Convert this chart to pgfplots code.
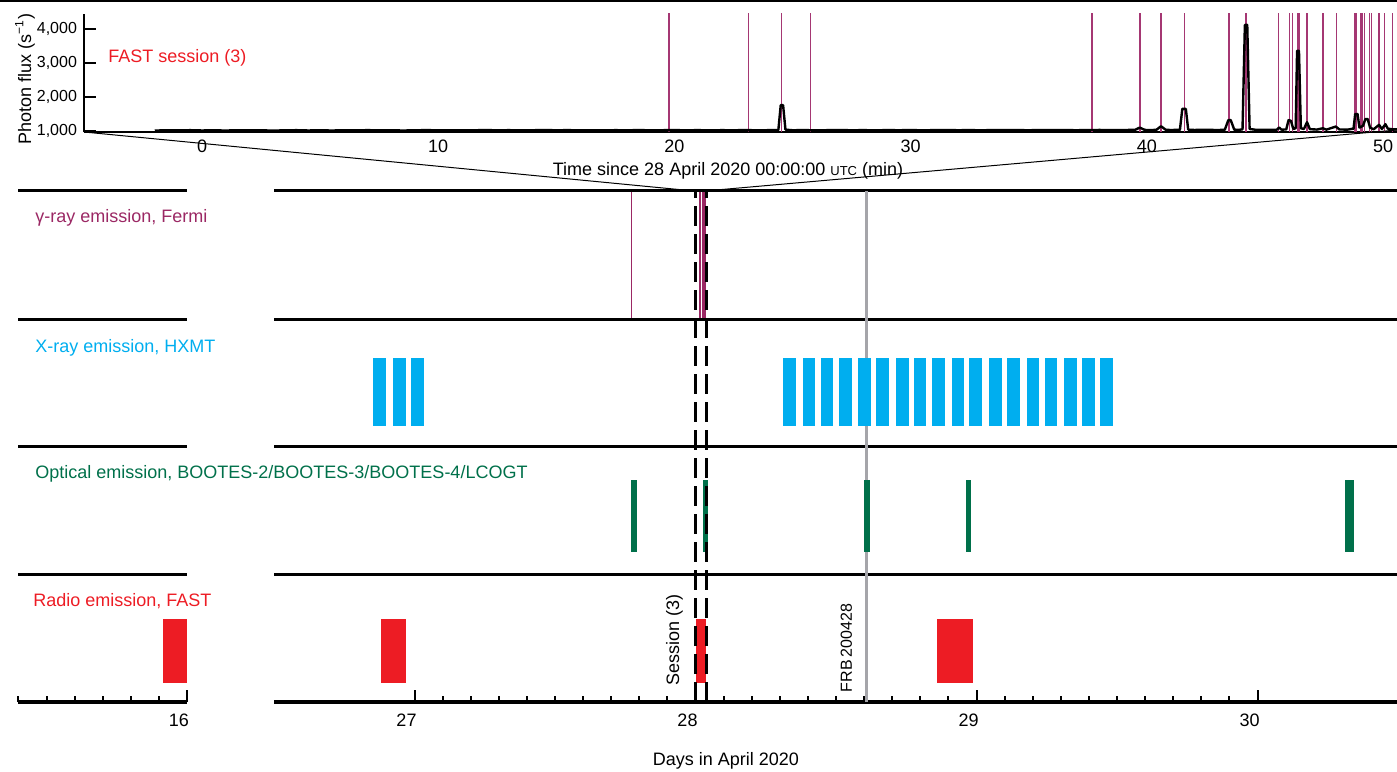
\documentclass[border=0pt]{standalone}
\usepackage{pgfplots}
\usepackage{pgfplotstable}
\pgfplotsset{compat=1.18}
\usepackage{fontspec}
\setmainfont{Liberation Sans}
\definecolor{gcol}{RGB}{155,40,100}
\definecolor{gline}{RGB}{165,55,115}
\definecolor{xcol}{RGB}{0,174,239}
\definecolor{ocol}{RGB}{0,112,74}
\definecolor{rcol}{RGB}{237,28,36}
\definecolor{frbcol}{RGB}{165,165,170}

% light curve, FAST session (3): minutes, photon flux
\pgfplotstableread{
t flux
-2.00 1012
-1.50 1022
-1.00 1016
-0.50 1024
0.00 1015
0.50 1021
1.00 1013
1.50 1023
2.00 1017
2.50 1020
3.00 1012
3.50 1019
4.00 1024
4.50 1015
5.00 1021
5.50 1014
6.00 1022
6.50 1016
7.00 1025
7.50 1018
8.00 1022
8.50 1014
9.00 1020
9.50 1026
10.00 1019
10.50 1023
11.00 1016
11.50 1021
12.00 1027
12.50 1020
13.00 1024
13.50 1017
14.00 1022
14.50 1028
15.00 1021
15.50 1025
16.00 1018
16.50 1023
17.00 1017
17.50 1024
18.00 1020
18.50 1027
19.00 1019
19.50 1023
20.00 1026
20.50 1020
21.00 1025
21.50 1018
22.00 1024
22.50 1021
23.00 1027
23.50 1020
24.00 1024
24.40 1030
24.50 1760
24.60 1760
24.70 1040
25.00 1022
25.50 1026
26.00 1019
26.50 1024
27.00 1028
27.50 1021
28.00 1025
28.50 1019
29.00 1026
29.50 1022
30.00 1027
30.50 1020
31.00 1025
31.50 1030
32.00 1022
32.50 1026
33.00 1020
33.50 1028
34.00 1024
34.50 1027
35.00 1021
35.50 1030
36.00 1024
36.50 1028
37.00 1022
37.50 1027
38.00 1031
38.50 1025
39.00 1029
39.50 1033
39.70 1100
39.90 1035
40.00 1027
40.40 1032
40.60 1140
40.80 1036
41.00 1029
41.40 1034
41.50 1650
41.65 1650
41.75 1040
42.00 1030
42.50 1035
43.00 1028
43.30 1036
43.45 1320
43.55 1320
43.70 1040
43.90 1033
44.05 1050
44.15 4120
44.25 4120
44.35 1060
44.60 1036
45.00 1032
45.50 1038
45.60 1100
45.70 1040
45.90 1045
46.00 1320
46.10 1300
46.20 1060
46.30 1080
46.36 3360
46.44 3360
46.52 1080
46.65 1060
46.78 1260
46.90 1055
47.20 1042
47.45 1080
47.60 1040
48.00 1130
48.15 1045
48.50 1040
48.75 1070
48.82 1500
48.92 1500
49.00 1100
49.15 1150
49.25 1350
49.35 1350
49.45 1100
49.60 1050
49.83 1180
49.95 1060
50.10 1200
50.20 1070
50.40 1050
50.60 1045
}\lightcurve

% gamma-ray bursts (Fermi) during session (3): minutes since 28 April 00:00 UTC
\pgfplotstableread{
t top
19.77 5000
23.13 5000
24.54 5000
25.77 5000
37.67 5000
39.71 5000
40.60 5000
41.59 5000
43.48 5000
44.19 5000
45.58 5000
46.03 5000
46.16 5000
46.39 5000
46.44 5000
46.78 5000
47.46 5000
48.02 5000
48.80 5000
48.86 5000
49.06 5000
49.11 5000
49.21 5000
49.42 5000
49.50 5000
49.83 5000
50.07 5000
50.41 5000
}\gammamin

% same bursts in days of April 2020
\pgfplotstableread{
d top
27.772 1
28.01373 1
28.01606 1
28.01704 1
28.01790 1
28.02616 1
28.02758 1
28.02819 1
28.02888 1
28.03019 1
28.03069 1
28.03165 1
28.03197 1
28.03206 1
28.03222 1
28.03225 1
28.03249 1
28.03296 1
28.03335 1
28.03389 1
28.03393 1
28.03407 1
28.03410 1
28.03417 1
28.03432 1
28.03438 1
28.03460 1
28.03477 1
28.03501 1
}\gammaday

\newcommand{\rbar}[5]{\addplot[fill=#5, draw=none] coordinates {(#1,#3) (#2,#3) (#2,#4) (#1,#4)} -- cycle;}

\begin{document}
\begin{tikzpicture}
\path[use as bounding box] (0,0) rectangle (698.5pt,385.5pt);
\draw[line width=1pt] (0,384.9pt) -- (698.5pt,384.9pt);

% ---------- top panel ----------
\begin{axis}[name=top, at={(42pt,319.5pt)}, anchor=south west, scale only axis,
 width=656.5pt, height=59pt,
 xmin=-4.996, xmax=50.59, ymin=970.6, ymax=4441,
 axis x line*=bottom, axis y line*=left, axis line style={-, line width=0.8pt},
 tick align=inside, ytick={1000,2000,3000,4000}, xtick={0,10,20,30,40,50},
 xtick style={draw=none}, ytick style={line width=0.8pt, black}, major tick length=6pt,
 /pgf/number format/1000 sep={,}, /pgf/number format/assume math mode=true,
 yticklabel style={font=\fontsize{8}{9}\selectfont},
 xticklabel style={font=\fontsize{9}{10}\selectfont, yshift=-0.5pt},
]
\addplot[gline, line width=0.7pt, ycomb, mark=none] table[x=t, y=top] {\gammamin};
\addplot[black, line width=1.2pt, mark=none, line join=round] table[x=t, y=flux] {\lightcurve};
\end{axis}
\node[rotate=90, font=\fontsize{9}{10}\selectfont] at (12.5pt,346pt) {Photon flux (s\textsuperscript{−1})};
\node[anchor=west, inner sep=0, text=rcol, font=\fontsize{9}{10}\selectfont] at (54pt,356.5pt) {FAST session (3)};
\node[font=\fontsize{9}{10}\selectfont] at (364pt,300pt) {Time since 28 April 2020 00:00:00 {\fontsize{6.5}{7}\selectfont UTC} (min)};

% zoom lines
\draw[line width=0.5pt] (42pt,319.5pt) -- (347pt,290pt);
\draw[line width=0.5pt] (698.5pt,320.5pt) -- (352.5pt,290pt);

% ---------- gamma-ray panel (ticks only) ----------
\begin{axis}[at={(137pt,225.5pt)}, anchor=south west, scale only axis,
 width=562pt, height=64.5pt, xmin=26.5, xmax=30.5, ymin=0, ymax=1, hide axis]
\addplot[gcol, line width=0.6pt, ycomb, mark=none] table[x=d, y=top] {\gammaday};
\end{axis}

% ---------- main (right) day axis ----------
\begin{axis}[name=main, at={(137pt,34.5pt)}, anchor=south west, scale only axis,
 width=562pt, height=255.5pt, xmin=26.5, xmax=30.5, ymin=0, ymax=511, clip=false,
 axis x line*=bottom, axis y line=none, axis line style={-, line width=1.6pt},
 tick align=inside, xtick={27,28,29,30}, minor x tick num=9,
 major tick length=6pt, minor tick length=3pt,
 every tick/.style={black, line width=1pt},
 xticklabel style={font=\fontsize{9}{10}\selectfont, xshift=-4pt, yshift=-2.5pt},
 /pgf/number format/assume math mode=true,
]
% panel separators
\addplot[black, line width=1.5pt] coordinates {(26.5,511) (30.5,511)};
\addplot[black, line width=1.5pt] coordinates {(26.5,382) (30.5,382)};
\addplot[black, line width=1.5pt] coordinates {(26.5,255) (30.5,255)};
\addplot[black, line width=1.5pt] coordinates {(26.5,127) (30.5,127)};
% FRB 200428
\addplot[frbcol, line width=1.5pt] coordinates {(28.607,0) (28.607,511)};
% X-ray HXMT
\rbar{26.854}{26.900}{276}{344}{xcol}
\rbar{26.922}{26.968}{276}{344}{xcol}
\rbar{26.989}{27.035}{276}{344}{xcol}
\rbar{28.313}{28.359}{276}{344}{xcol}
\rbar{28.381}{28.427}{276}{344}{xcol}
\rbar{28.445}{28.491}{276}{344}{xcol}
\rbar{28.512}{28.558}{276}{344}{xcol}
\rbar{28.580}{28.626}{276}{344}{xcol}
\rbar{28.644}{28.690}{276}{344}{xcol}
\rbar{28.712}{28.758}{276}{344}{xcol}
\rbar{28.776}{28.822}{276}{344}{xcol}
\rbar{28.843}{28.889}{276}{344}{xcol}
\rbar{28.911}{28.957}{276}{344}{xcol}
\rbar{28.975}{29.021}{276}{344}{xcol}
\rbar{29.043}{29.089}{276}{344}{xcol}
\rbar{29.110}{29.156}{276}{344}{xcol}
\rbar{29.178}{29.224}{276}{344}{xcol}
\rbar{29.242}{29.288}{276}{344}{xcol}
\rbar{29.310}{29.356}{276}{344}{xcol}
\rbar{29.374}{29.420}{276}{344}{xcol}
\rbar{29.441}{29.487}{276}{344}{xcol}
% Optical
\rbar{27.772}{27.793}{150}{222}{ocol}
\rbar{28.025}{28.045}{150}{222}{ocol}
\rbar{28.601}{28.622}{150}{222}{ocol}
\rbar{28.961}{28.981}{150}{222}{ocol}
\rbar{30.313}{30.345}{150}{222}{ocol}
% Radio FAST
\rbar{26.879}{26.968}{19}{83}{rcol}
\rbar{28.000}{28.039}{19}{83}{rcol}
\rbar{28.858}{28.989}{19}{83}{rcol}
% session (3) boundaries
\addplot[black, line width=1.2pt, dash pattern=on 10pt off 4pt] coordinates {(28.0,0) (28.0,511)};
\addplot[black, line width=1.2pt, dash pattern=on 10pt off 4pt] coordinates {(28.039,0) (28.039,511)};
\node[rotate=90, font=\fontsize{9}{10}\selectfont] at (axis cs:27.925,62) {Session (3)};
\node[rotate=90, font=\fontsize{8}{9}\selectfont] at (axis cs:28.537,54) {FRB\,200428};
\end{axis}

% ---------- left day axis ----------
\begin{axis}[at={(9.2pt,34.5pt)}, anchor=south west, scale only axis,
 width=84.3pt, height=255.5pt, xmin=15.4, xmax=16.0, ymin=0, ymax=511, clip=false,
 axis x line*=bottom, axis y line=none, axis line style={-, line width=1.6pt},
 tick align=inside, xtick={16}, minor xtick={15.4,15.5,15.6,15.7,15.8,15.9},
 major tick length=6pt, minor tick length=3pt,
 every tick/.style={black, line width=1pt},
 xticklabel style={font=\fontsize{9}{10}\selectfont, xshift=-4pt, yshift=-2.5pt},
 /pgf/number format/assume math mode=true,
]
\addplot[black, line width=1.5pt] coordinates {(15.4,511) (16.0,511)};
\addplot[black, line width=1.5pt] coordinates {(15.4,382) (16.0,382)};
\addplot[black, line width=1.5pt] coordinates {(15.4,255) (16.0,255)};
\addplot[black, line width=1.5pt] coordinates {(15.4,127) (16.0,127)};
\rbar{15.915}{16.0}{19}{83}{rcol}
\end{axis}

% panel labels
\node[anchor=west, inner sep=0, text=gcol, font=\fontsize{9}{10}\selectfont] at (17.5pt,276.5pt) {γ-ray emission, Fermi};
\node[anchor=west, inner sep=0, text=xcol, font=\fontsize{9}{10}\selectfont] at (17.5pt,211.5pt) {X-ray emission, HXMT};
\node[anchor=west, inner sep=0, text=ocol, font=\fontsize{9}{10}\selectfont] at (17.5pt,148.5pt) {Optical emission, BOOTES-2/BOOTES-3/BOOTES-4/LCOGT};
\node[anchor=west, inner sep=0, text=rcol, font=\fontsize{9}{10}\selectfont] at (16.5pt,85pt) {Radio emission, FAST};
\node[font=\fontsize{9}{10}\selectfont] at (363pt,5pt) {Days in April 2020};
\end{tikzpicture}
\end{document}
